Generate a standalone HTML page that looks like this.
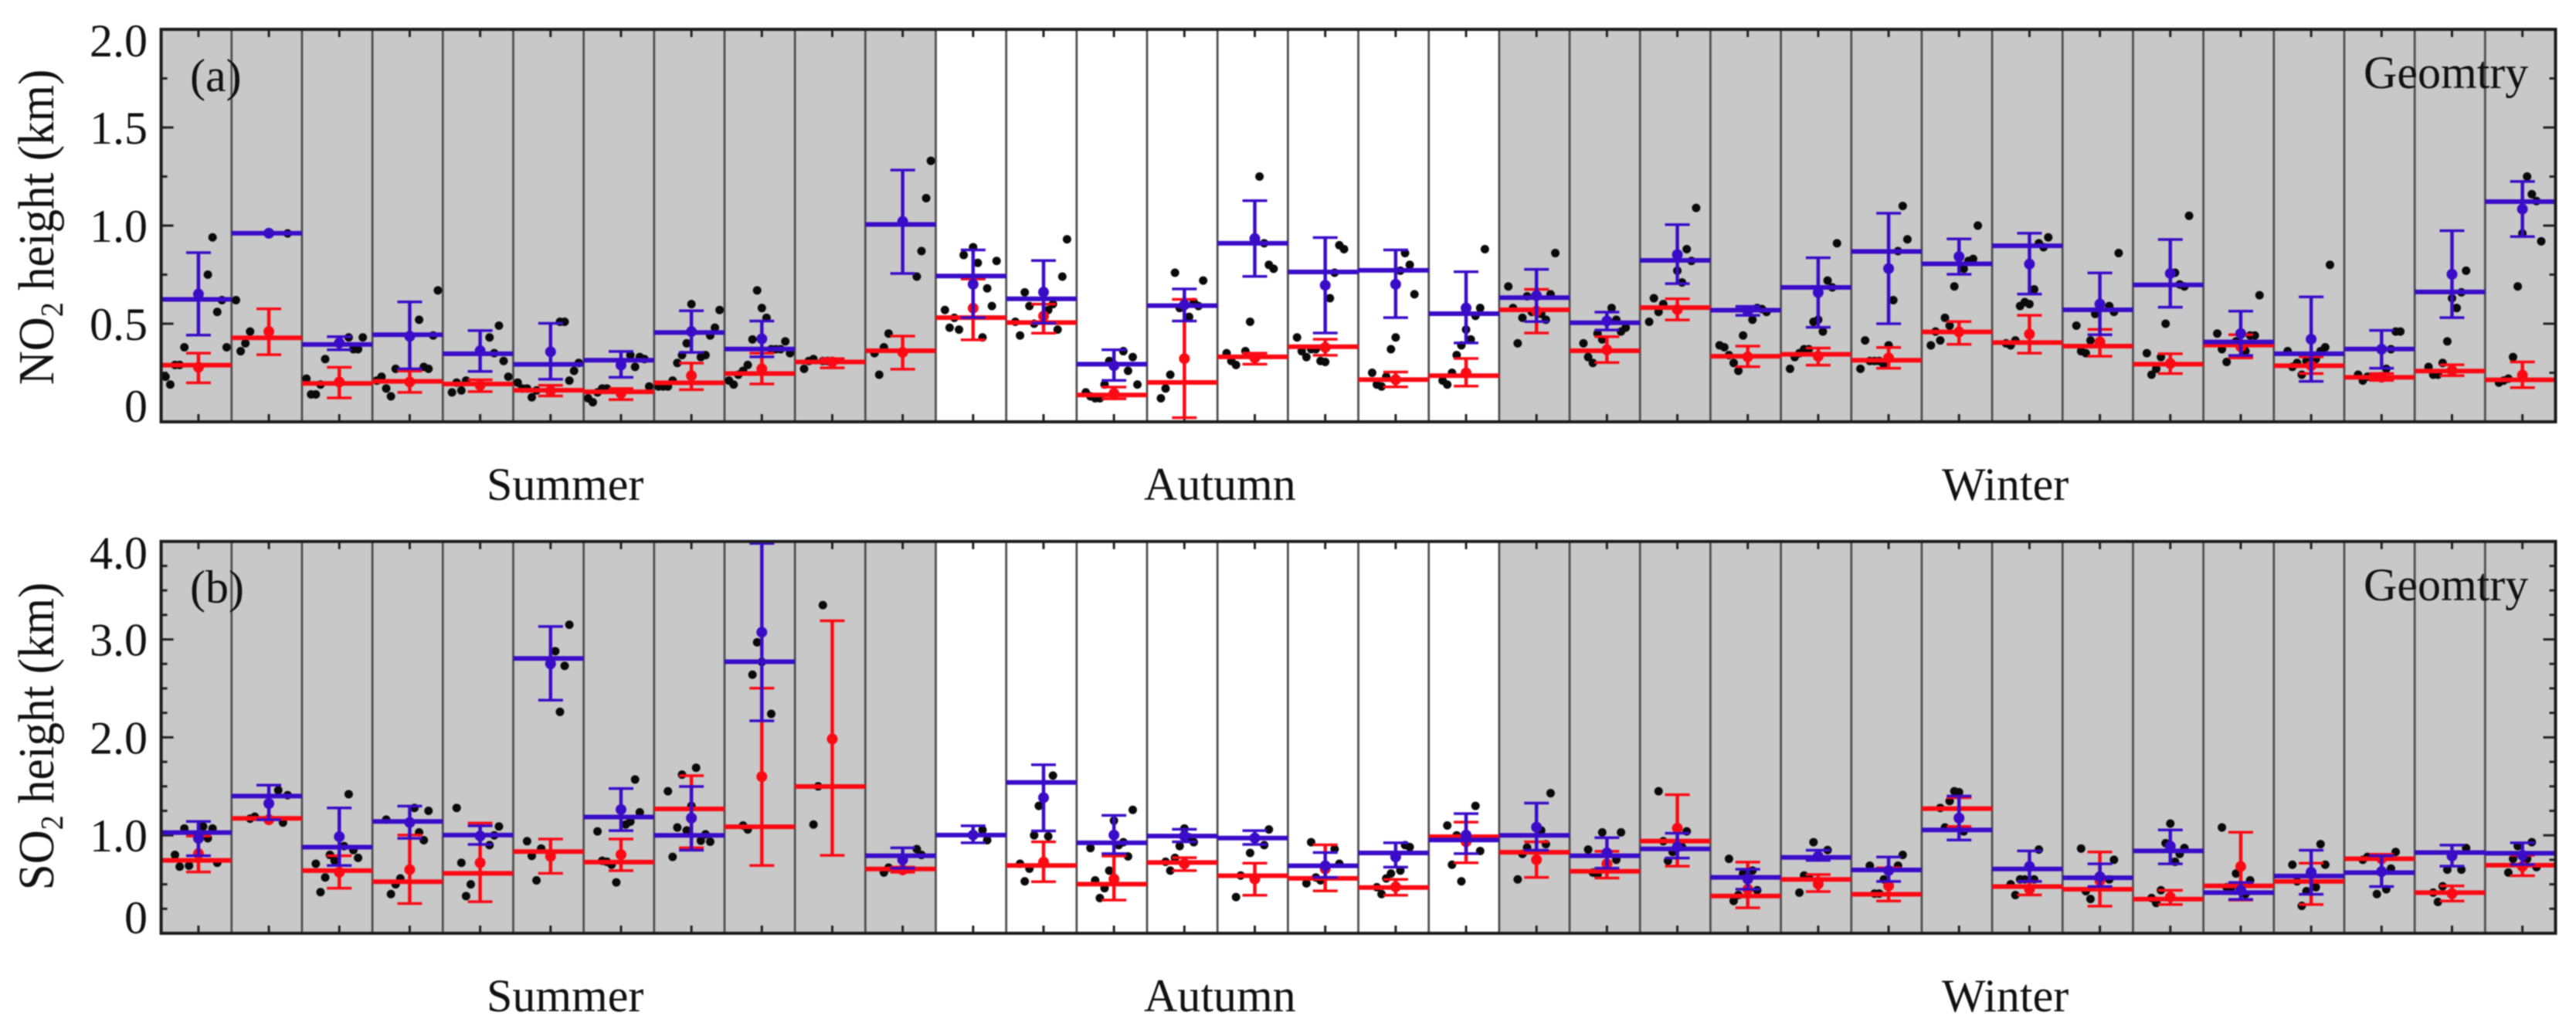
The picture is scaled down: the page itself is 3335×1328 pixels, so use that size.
<!DOCTYPE html>
<html lang="en">
<head>
<meta charset="utf-8">
<title>NO2 and SO2 height by season</title>
<style>
html,body{margin:0;padding:0;background:#fff;width:3335px;height:1328px;overflow:hidden}
svg{display:block;font-family:"Liberation Serif","Times New Roman",serif;filter:blur(0.7px)}
text{fill:#111}
</style>
</head>
<body>
<svg id="chart" xmlns="http://www.w3.org/2000/svg" width="3335" height="1328" viewBox="0 0 3335 1328">
  <g id="panel-a"></g>
  <g id="panel-b"></g>
  <text transform="translate(69,294) rotate(-90) scale(1,1.08)" text-anchor="middle" font-size="61">NO<tspan font-size="38" dy="11">2</tspan><tspan dy="-11"> height (km)</tspan></text>
  <text transform="translate(69,953) rotate(-90) scale(1,1.08)" text-anchor="middle" font-size="61">SO<tspan font-size="38" dy="11">2</tspan><tspan dy="-11"> height (km)</tspan></text>
  <text x="246" y="118" font-size="60">(a)</text>
  <text x="246" y="780" font-size="60">(b)</text>
  <text x="3060" y="114" font-size="60">Geomtry</text>
  <text x="3060" y="777" font-size="60">Geomtry</text>
  <text x="630" y="647" font-size="60">Summer</text>
  <text x="1481" y="647" font-size="60">Autumn</text>
  <text x="2514" y="647" font-size="60">Winter</text>
  <text x="630" y="1309" font-size="60">Summer</text>
  <text x="1481" y="1309" font-size="60">Autumn</text>
  <text x="2514" y="1309" font-size="60">Winter</text>
</svg>
<script>
// Number of gray/white/gray groups along the x axis
const summerCount = 11;
const autumnCount = 8;
const winterCount = 15;

// Panel (a) NO2 axis
const aYTicks = [0, 0.5, 1.0, 1.5, 2.0];
const aYTickLabels = ["0", "0.5", "1.0", "1.5", "2.0"];
const aYMinorTicks = [0.25, 0.75, 1.25, 1.75];

// Panel (a) blue series
const aBlueLine = [.624,.961,.394,.444,.347,.293,.314,.455,.371,null,1.006,.743,.627,.294,.592,.910,.764,.772,.551,.633,.505,.823,.569,.685,.868,.805,.897,.571,.698,.407,.347,.371,.662,1.122];
const aBlueMean = [.651,.961,.402,.436,.362,.357,.289,.460,.423,null,1.021,.701,.661,.286,.596,.934,.696,.701,.580,.643,.514,.852,.563,.659,.781,.842,.804,.600,.756,.450,.421,.370,.752,1.084];
const aBlueHigh = [.862,.961,.434,.611,.465,.502,.359,.566,.514,null,1.283,.876,.822,.367,.677,1.127,.939,.876,.765,.777,.559,1.005,.588,.836,1.063,.932,.961,.759,.929,.564,.637,.466,.974,1.225];
const aBlueLow = [.442,.961,.367,.270,.257,.217,.227,.354,.331,null,.756,.531,.503,.211,.514,.741,.453,.531,.402,.511,.468,.704,.543,.482,.500,.752,.651,.444,.584,.338,.206,.273,.531,.944];

// Panel (a) red series
const aRedLine = [.289,.428,.196,.206,.193,.161,.153,.199,.246,.305,.362,.531,.506,.137,.201,.331,.383,.215,.235,.571,.362,.582,.334,.344,.314,.458,.404,.386,.294,.391,.286,.227,.259,.214];
const aRedMean = [.278,.460,.203,.203,.186,.158,.145,.235,.270,.305,.354,.579,.539,.145,.322,.326,.379,.215,.249,.564,.367,.572,.331,.334,.326,.458,.447,.407,.297,.383,.286,.227,.262,.238];
const aRedHigh = [.350,.576,.278,.259,.214,.186,.170,.299,.350,.322,.437,.728,.600,.177,.624,.350,.421,.254,.323,.675,.434,.627,.386,.376,.379,.511,.543,.471,.347,.444,.331,.246,.291,.305];
const aRedLow = [.199,.342,.122,.150,.154,.132,.113,.164,.193,.275,.268,.418,.452,.117,.021,.294,.339,.178,.182,.453,.302,.519,.281,.289,.273,.395,.350,.334,.246,.326,.246,.211,.235,.174];

// Panel (a) individual observations: step index from the column tick, and height
const aDotStep = [
[-7,-6,-5,-4,-3,2,3,4,5,6],[-7,-6,-5,-4,4],[-7,-6,-5,-4,-3,2,3,4,5],[-7,-6,-5,-4,-3,2,3,4,5,6],[-6,-5,-4,-3,2,3,4,5,6],
[-7,-6,-5,-4,-3,2,3,4,5,6],[-7,-6,-5,-4,-3,2,3,4,5,6],[-7,-6,-5,-4,-3,-2,-1,0,2,3,4,5,6],[-7,-6,-5,-4,-3,-2,-1,0,1,2,3,4,5,6],[-6,-5,-4,-2,-1],
[-6,-5,-4,-3,3,4,5,6],[-6,-5,-4,-3,-2,0,1,2,3,4,5],[-6,-5,-4,-3,-2,1,2,3,4,5],[-6,-5,-4,-3,-2,-1,2,3,4,5],[-5,-4,-3,-2,-1,1,2,3,4],
[-6,-5,-4,-2,-1,1,2,3,4],[-6,-5,-4,-3,-2,-1,0,1,2,3,4],[-5,-4,-3,-2,-1,0,1,2,3,4],[-5,-4,-3,-2,-1,0,1,2,3,4],[-6,-5,-4,-3,-2,-1,1,2,3,4],
[-5,-4,-3,-2,-1,1,2,3,4],[-6,-5,-4,-3,0,1,2,3,4],[-6,-5,-4,-3,-2,-1,1,2,3,4],[-6,-5,-4,-3,-2,-1,0,1,2,3,4],[-6,-5,-4,-3,-2,-1,0,1,2,3,4],
[-6,-5,-4,-3,-2,-1,1,2,3,4],[-5,-4,-3,-2,-1,0,1,2,3,4],[-5,-4,-3,-2,-1,2,3,4],[-5,-4,-3,-2,-1,1,2,3,4],[-5,-4,-3,-1,1,2,3,4],
[-5,-4,-3,-2,-1,1,2,3,4],[-5,-4,-3,-2,-1,1,2,3,4],[-5,-4,-3,-2,-1,1,0,2,3],[-5,-4,-3,-2,-1,0,1,2,3,4]
];
const aDotValue = [
[.23,.19,.29,.29,.38,.75,.94,.56,.62,.38],[.62,.36,.40,.46,.96],[.22,.14,.14,.19,.32,.43,.37,.37,.43],[.21,.23,.17,.13,.27,.52,.28,.27,.44,.67],[.15,.20,.16,.21,.43,.35,.49,.31,.23],
[.20,.17,.17,.125,.16,.51,.51,.21,.26,.30],[.12,.10,.15,.17,.17,.34,.28,.33,.32,.18],[.18,.18,.18,.21,.30,.34,.40,.60,.33,.34,.44,.48,.57],[.21,.19,.24,.26,.29,.42,.67,.58,.53,.37,.37,.37,.41,.35],[.27,.31,.32,.31,.31],
[.35,.24,.38,.45,.74,.87,1.14,1.33],[.57,.48,.53,.47,.85,.89,.81,.43,.68,.59,.82],[.51,.44,.66,.59,.50,.57,.60,.47,.74,.93],[.15,.13,.12,.12,.19,.31,.36,.26,.33,.19],[.12,.17,.24,.76,.58,.535,.61,.59,.72],
[.35,.31,.29,.36,.51,1.25,.91,.80,.78],[.43,.36,.33,.37,.37,.31,.305,.63,.76,.90,.88],[.25,.19,.18,.23,.37,.43,.77,.86,.80,.65],[.21,.19,.25,.34,.39,.47,.42,.54,.58,.88],[.69,.58,.40,.53,.64,.56,.55,.52,.65,.86],
[.40,.33,.30,.45,.42,.58,.52,.46,.48],[.51,.63,.56,.60,.77,.71,.88,.82,1.09],[.39,.38,.34,.30,.26,.44,.52,.58,.575,.56],[.27,.33,.35,.37,.37,.51,.52,.46,.72,.685,.91],[.27,.415,.31,.31,.31,.29,.39,.62,.87,1.10,.93],
[.39,.46,.415,.53,.49,.69,.78,.82,.83,1.0],[.40,.39,.415,.59,.61,.60,.675,.91,.89,.94],[.49,.36,.35,.415,.55,.59,.56,.86],[.35,.24,.27,.33,.50,.76,.70,.69,1.05],[.45,.37,.305,.41,.36,.44,.44,.645],
[.36,.28,.30,.24,.31,.32,.36,.38,.80],[.24,.21,.23,.23,.23,.27,.37,.46,.46],[.28,.24,.24,.30,.41,.58,.63,.66,.77],[.20,.21,.22,.33,.69,.96,1.25,1.16,1.125,.92]
];

// Panel (b) SO2 axis
const bYTicks = [0, 1.0, 2.0, 3.0, 4.0];
const bYTickLabels = ["0", "1.0", "2.0", "3.0", "4.0"];
const bYMinorTicks = [0.25,0.5,0.75,1.25,1.5,1.75,2.25,2.5,2.75,3.25,3.5,3.75];

// Panel (b) blue series
const bBlueLine = [1.028,1.401,.879,1.142,1.003,2.806,1.187,1.0,2.772,null,.792,1.003,1.540,.924,.993,.972,.689,.820,.952,1.0,.792,.862,.571,.775,.647,1.055,.657,.567,.841,.415,.585,.619,.824,.817];
const bBlueMean = [.969,1.325,.986,1.131,.993,2.751,1.263,1.176,3.073,null,.751,1.003,1.384,1.003,.993,.972,.689,.779,1.003,1.083,.820,.882,.554,.785,.640,1.176,.682,.578,.889,.439,.623,.630,.789,.796];
const bBlueHigh = [1.142,1.512,1.280,1.298,1.097,3.132,1.478,1.498,3.98,null,.872,1.097,1.720,1.204,1.062,1.048,.824,.924,1.221,1.329,.976,1.021,.654,.848,.779,1.401,.841,.709,1.055,.519,.848,.792,.900,.924];
const bBlueLow = [.792,1.159,.692,.969,.907,2.380,1.048,.848,2.169,null,.664,.924,1.045,.813,.934,.907,.571,.675,.813,.848,.664,.768,.450,.744,.529,.952,.529,.477,.709,.346,.398,.477,.685,.702];

// Panel (b) red series
const bRedLine = [.744,1.173,.640,.526,.612,.834,.727,1.270,1.087,1.498,.657,null,.692,.502,.723,.588,.561,.467,.986,.827,.633,.941,.381,.550,.398,1.273,.477,.450,.349,.484,.529,.761,.415,.695];
const bRedMean = [.813,1.159,.623,.650,.720,.785,.803,1.176,1.599,1.983,.647,null,.727,.554,.709,.554,.657,.474,.934,.751,.709,1.073,.450,.502,.484,1.176,.450,.536,.370,.682,.606,.761,.405,.682];
const bRedHigh = [.993,1.173,.792,1.003,1.125,.962,.962,1.609,2.502,3.190,.675,null,.934,.789,.772,.716,.903,.550,1.135,.934,.837,1.415,.727,.599,.668,1.384,.529,.830,.439,1.031,.716,.806,.484,.796];
const bRedLow = [.626,1.159,.460,.304,.322,.612,.640,.872,.692,.796,.623,null,.526,.339,.640,.388,.433,.388,.720,.571,.564,.685,.260,.426,.329,1.090,.391,.277,.294,.339,.294,.761,.329,.588];

// Panel (b) individual observations
const bDotStep = [
[-5,-4,-3,-2,1,2,3,4],[-4,-3,2,3,4],[-5,-4,-3,-2,-1,1,2,3,4],[-5,-4,-3,-2,1,2,3,4],[-5,-4,-3,-2,2,3,4],
[-5,-4,-3,-2,1,2,3,4],[-5,-4,-3,-2,-1,1,2,3,4],[-5,-4,-3,-2,-1,0,1,2,3,4],[-4,-3,-2,-1,0,2],[-4,-3,-2],
[-4,-3,3,4],[2,3],[-5,-4,-3,-2,-1,1,2],[-5,-4,-3,-2,-1,0,1,2,3,4],[-4,-3,-2,-1,0,1,2],
[-4,-3,-1,2,3],[-4,-3,-2,-1,2,3],[-4,-3,-2,-1,1,2,3],[-4,-3,-2,-1,2,3],[-4,-3,-2,1,2,3],
[-4,-3,-2,-1,2,3],[-4,-3,-2,-1,1,2],[-4,-3,-2,-1,1,2],[-4,-3,-2,-1,2],[-4,-3,-2,-1,0,2,3],
[-4,-3,-2,-1,0,1],[-4,-3,-2,-1,1,2],[-4,-3,-2,2,3],[-4,-3,-2,-1,1,2,3,0],[-4,-3,-2,-1,1,2],
[-4,-3,-2,-1,1,2,3],[-4,-3,-1,1,2,3],[-4,-3,-2,-1,2,3],[-3,-2,-1,1,2,3]
];
const bDotValue = [
[.80,.68,1.07,.69,1.09,.97,1.07,.72],[1.17,1.19,1.46,1.13,1.41],[.71,.42,.57,.80,.74,.89,1.42,.85,.77],[1.16,.40,.50,.56,1.28,1.03,.95,1.25],[1.28,.72,.38,.50,.90,1.0,1.09],
[.94,.79,.54,.865,2.88,2.26,2.73,3.15],[1.04,.74,.73,.70,.52,1.11,1.14,1.57,1.235],[1.45,.78,1.08,1.62,1.05,1.30,1.69,.945,1.01,.935],[1.10,1.06,2.64,2.97,2.77,2.24],[1.11,1.50,3.35],
[.62,.67,.86,.80],[1.055,.95],[.71,.53,.66,1.0,1.30,.99,1.61],[.87,.54,.36,.46,.64,1.15,.90,.93,.785,1.26],[.73,.64,.77,.89,1.07,.98,.93],
[.37,.59,.82,.90,1.06],[.51,.93,.57,.54,.86,.71],[.47,.40,.56,.61,.64,.90,.88],[1.10,.70,1.0,.53,1.30,.84],[.55,.81,.875,1.05,.91,1.43],
[.855,.62,.60,1.03,.75,1.03],[1.45,.94,.74,.83,.88,1.04],[.76,.33,.39,.61,.64,.44],[.415,.59,.57,.93,.85],[.69,.405,.405,.55,.50,.69,.80],
[1.28,1.08,1.35,1.45,1.44,1.04],[.50,.39,.55,.55,.55,.855],[.865,.43,.35,.55,.75],[.36,.31,.44,.92,.73,.81,.87,1.12],[1.08,.47,.47,.61,.40,.54],
[.70,.53,.28,.43,.47,.91,.70],[.75,.78,.40,.45,.66,.83],[.415,.32,.48,.65,.65,.87],[.62,.76,.89,.76,.93,.675]
];

const NS = 'http://www.w3.org/2000/svg';
const columnCount = summerCount + autumnCount + winterCount;
const PLOT_LEFT = 208.6;
const PLOT_RIGHT = 3308.5;
const TICK_OFFSET = 0.53;
const STEP_WIDTH = 0.0667;
const BLUE = '#3a0cc8';
const RED = '#fb0a14';

function xAxis(u) {
  return PLOT_LEFT + u * (PLOT_RIGHT - PLOT_LEFT) / columnCount;
}
function yAxisA(v) {
  return 546 - v * 254;
}
function yAxisB(v) {
  return 1208 - v * 126.8;
}
function make(parent, tag, attrs) {
  const el = document.createElementNS(NS, tag);
  for (const key in attrs) el.setAttribute(key, attrs[key]);
  parent.appendChild(el);
  return el;
}
function drawLine(parent, name, x1, y1, x2, y2, color, width) {
  const el = make(parent, 'line', {x1: x1, y1: y1, x2: x2, y2: y2, stroke: color, 'stroke-width': width});
  
  
  return el;
}
function drawSeries(group, label, i, y, line, mean, high, low, color) {
  if (line[i] === null) return;
  const cx = xAxis(i + TICK_OFFSET);
  const capHalf = 16;
  drawLine(group, label + '-level-' + i, xAxis(i), y(line[i]), xAxis(i + 1), y(line[i]), color, 6);
  drawLine(group, label + '-error-bar-' + i, cx, y(high[i]), cx, y(low[i]), color, 4.5);
  drawLine(group, label + '-error-cap-high-' + i, cx - capHalf, y(high[i]), cx + capHalf, y(high[i]), color, 3.5);
  drawLine(group, label + '-error-cap-low-' + i, cx - capHalf, y(low[i]), cx + capHalf, y(low[i]), color, 3.5);
  const marker = make(group, 'circle', {cx: cx, cy: y(mean[i]), r: 7, fill: color});
  
  
}
function drawPanel(groupId, y, yTicks, yLabels, yMinor, dotStep, dotValue, blue, red) {
  const group = document.getElementById(groupId);
  const top = y(yTicks[yTicks.length - 1]);
  const bottom = y(0);

  for (let i = 0; i < columnCount; i++) {
    const isAutumn = i >= summerCount && i < summerCount + autumnCount;
    const band = make(group, 'rect', {x: xAxis(i), y: top, width: xAxis(i + 1) - xAxis(i), height: bottom - top, fill: isAutumn ? '#ffffff' : '#c8c8c8'});
    
    
  }
  for (let i = 1; i < columnCount; i++) {
    drawLine(group, 'column-divider-' + i, xAxis(i), top, xAxis(i), bottom, '#505050', 2.8);
  }
  for (let i = 0; i < columnCount; i++) {
    const tx = xAxis(i + TICK_OFFSET);
    drawLine(group, 'x-tick-bottom-' + i, tx, bottom, tx, bottom - 10, '#222', 3);
    drawLine(group, 'x-tick-top-' + i, tx, top, tx, top + 10, '#222', 3);
  }
  yTicks.forEach(function (v, k) {
    drawLine(group, 'y-tick-left-' + k, PLOT_LEFT, y(v), PLOT_LEFT + 16, y(v), '#222', 3);
    drawLine(group, 'y-tick-right-' + k, PLOT_RIGHT, y(v), PLOT_RIGHT - 16, y(v), '#222', 3);
    const last = k === yTicks.length - 1;
    const offset = k === 0 ? 0 : (last ? 35 : 21);
    const label = make(group, 'text', {x: 191, y: y(v) + offset, 'text-anchor': 'end', 'font-size': 60});
    label.textContent = yLabels[k];
    
    
  });
  yMinor.forEach(function (v, k) {
    drawLine(group, 'y-minor-tick-left-' + k, PLOT_LEFT, y(v), PLOT_LEFT + 8, y(v), '#222', 3);
    drawLine(group, 'y-minor-tick-right-' + k, PLOT_RIGHT, y(v), PLOT_RIGHT - 8, y(v), '#222', 3);
  });
  for (let i = 0; i < columnCount; i++) {
    dotStep[i].forEach(function (step, k) {
      const dot = make(group, 'circle', {cx: xAxis(i + TICK_OFFSET + step * STEP_WIDTH), cy: y(dotValue[i][k]), r: 5.5, fill: '#0a0a0a'});
      
      
    });
  }
  for (let i = 0; i < columnCount; i++) {
    drawSeries(group, 'red-series', i, y, red[0], red[1], red[2], red[3], RED);
    drawSeries(group, 'blue-series', i, y, blue[0], blue[1], blue[2], blue[3], BLUE);
  }
  const frame = make(group, 'rect', {x: PLOT_LEFT, y: top, width: PLOT_RIGHT - PLOT_LEFT, height: bottom - top, fill: 'none', stroke: '#1c1c1c', 'stroke-width': 4});
  
  
}

drawPanel('panel-a', yAxisA, aYTicks, aYTickLabels, aYMinorTicks, aDotStep, aDotValue,
  [aBlueLine, aBlueMean, aBlueHigh, aBlueLow], [aRedLine, aRedMean, aRedHigh, aRedLow]);
drawPanel('panel-b', yAxisB, bYTicks, bYTickLabels, bYMinorTicks, bDotStep, bDotValue,
  [bBlueLine, bBlueMean, bBlueHigh, bBlueLow], [bRedLine, bRedMean, bRedHigh, bRedLow]);
</script>
</body>
</html>
